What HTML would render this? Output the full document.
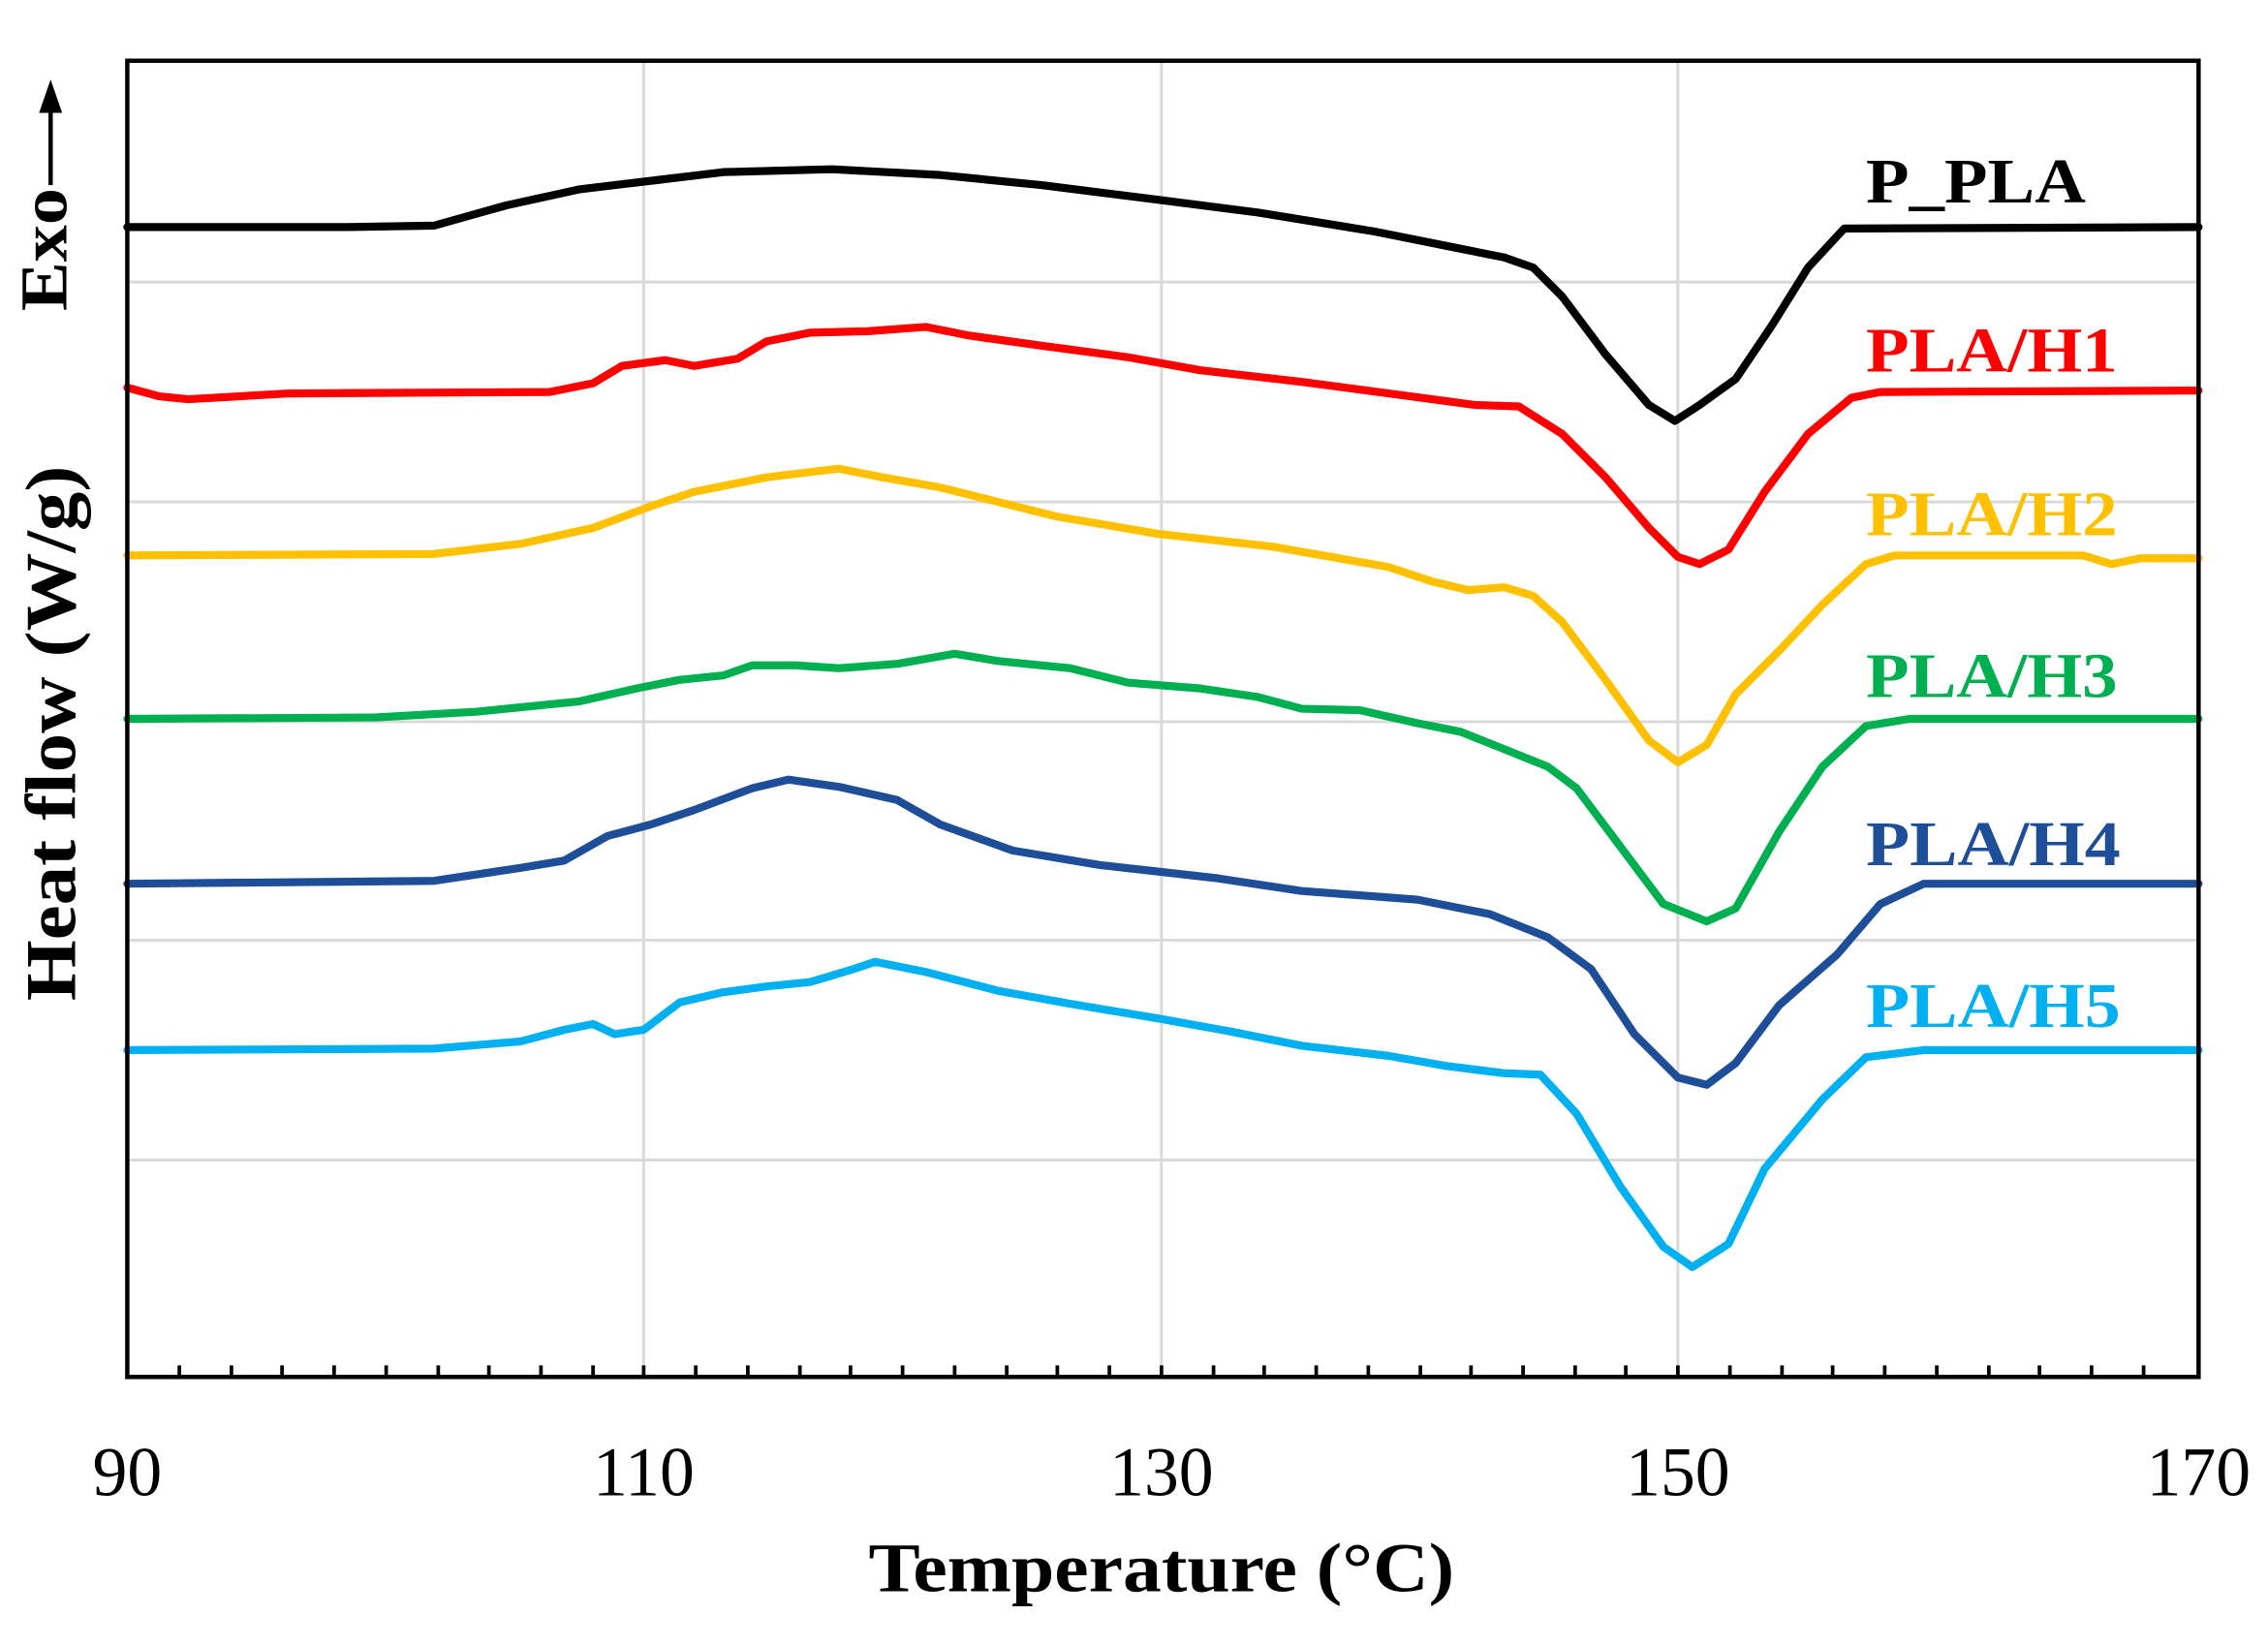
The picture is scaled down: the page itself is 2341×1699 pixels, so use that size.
<!DOCTYPE html>
<html><head><meta charset="utf-8"><style>html,body{margin:0;padding:0;background:#fff}svg{display:block}</style></head>
<body>
<svg width="2341" height="1699" viewBox="0 0 1568 1138" preserveAspectRatio="none" xmlns="http://www.w3.org/2000/svg" font-family="Liberation Serif, serif">
<rect width="1568" height="1138" fill="#fff"/>
<g stroke="#d9d9d9" stroke-width="2">
<line x1="445" y1="42" x2="445" y2="952"/><line x1="803" y1="42" x2="803" y2="952"/><line x1="1160" y1="42" x2="1160" y2="952"/>
<line x1="88" y1="195" x2="1520" y2="195"/><line x1="88" y1="347" x2="1520" y2="347"/><line x1="88" y1="499" x2="1520" y2="499"/><line x1="88" y1="650" x2="1520" y2="650"/><line x1="88" y1="802" x2="1520" y2="802"/>
</g>
<g stroke="#000" stroke-width="2.5">
<line x1="124" y1="952" x2="124" y2="944"/><line x1="160" y1="952" x2="160" y2="944"/><line x1="195" y1="952" x2="195" y2="944"/><line x1="231" y1="952" x2="231" y2="944"/><line x1="267" y1="952" x2="267" y2="944"/><line x1="303" y1="952" x2="303" y2="944"/><line x1="338" y1="952" x2="338" y2="944"/><line x1="374" y1="952" x2="374" y2="944"/><line x1="410" y1="952" x2="410" y2="944"/><line x1="445" y1="952" x2="445" y2="944"/><line x1="481" y1="952" x2="481" y2="944"/><line x1="517" y1="952" x2="517" y2="944"/><line x1="553" y1="952" x2="553" y2="944"/><line x1="588" y1="952" x2="588" y2="944"/><line x1="624" y1="952" x2="624" y2="944"/><line x1="660" y1="952" x2="660" y2="944"/><line x1="696" y1="952" x2="696" y2="944"/><line x1="731" y1="952" x2="731" y2="944"/><line x1="767" y1="952" x2="767" y2="944"/><line x1="803" y1="952" x2="803" y2="944"/><line x1="839" y1="952" x2="839" y2="944"/><line x1="874" y1="952" x2="874" y2="944"/><line x1="910" y1="952" x2="910" y2="944"/><line x1="946" y1="952" x2="946" y2="944"/><line x1="982" y1="952" x2="982" y2="944"/><line x1="1017" y1="952" x2="1017" y2="944"/><line x1="1053" y1="952" x2="1053" y2="944"/><line x1="1089" y1="952" x2="1089" y2="944"/><line x1="1124" y1="952" x2="1124" y2="944"/><line x1="1160" y1="952" x2="1160" y2="944"/><line x1="1196" y1="952" x2="1196" y2="944"/><line x1="1232" y1="952" x2="1232" y2="944"/><line x1="1267" y1="952" x2="1267" y2="944"/><line x1="1303" y1="952" x2="1303" y2="944"/><line x1="1339" y1="952" x2="1339" y2="944"/><line x1="1375" y1="952" x2="1375" y2="944"/><line x1="1410" y1="952" x2="1410" y2="944"/><line x1="1446" y1="952" x2="1446" y2="944"/><line x1="1482" y1="952" x2="1482" y2="944"/>
</g>
<g fill="none" stroke-width="5.5" stroke-linejoin="round" stroke-linecap="round">
<polyline stroke="#000" points="88,157 240,157 300,156 350,142 400,131 450,125 500,119 575,117 650,121 720,128 800,138 870,147 950,160 1000,170 1040,178 1060,185 1080,205 1110,245 1140,280 1158,291 1175,280 1200,262 1225,225 1250,185 1275,158 1520,157"/>
<polyline stroke="#ff0000" points="88,268 110,274 130,276 200,272 380,271 410,265 430,253 460,249 480,253 510,248 530,236 560,230 600,229 640,226 670,232 720,239 780,247 830,256 900,264 960,272 1020,280 1050,281 1080,300 1110,330 1140,365 1160,385 1175,390 1195,380 1220,340 1250,300 1280,275 1300,271 1520,270"/>
<polyline stroke="#ffc000" points="88,384 300,383 360,376 410,365 450,350 480,340 530,330 580,324 610,330 650,337 690,347 730,357 800,369 880,378 960,392 990,402 1015,408 1040,406 1060,412 1080,430 1110,470 1140,512 1160,527 1180,515 1200,480 1230,450 1260,418 1290,390 1310,384 1440,384 1460,390 1480,386 1520,386"/>
<polyline stroke="#00b050" points="88,497 260,496 330,492 400,485 440,476 470,470 500,467 520,460 550,460 580,462 620,459 660,452 690,457 740,462 780,472 830,476 870,482 900,490 940,491 980,500 1010,506 1040,518 1070,530 1090,545 1120,585 1150,625 1180,637 1200,628 1230,575 1260,530 1290,502 1320,497 1520,497"/>
<polyline stroke="#1f4e99" points="88,611 300,609 360,600 390,595 420,578 450,570 480,560 520,545 545,539 580,544 620,553 650,570 700,588 760,598 840,607 900,616 980,622 1030,632 1070,648 1100,670 1130,715 1160,745 1180,750 1200,735 1230,695 1270,660 1300,625 1330,611 1520,611"/>
<polyline stroke="#00b0f0" points="88,726 300,725 360,720 390,712 410,708 425,715 445,712 470,693 500,686 530,682 560,679 590,670 605,665 640,672 690,685 740,694 800,704 850,713 900,723 960,730 1000,737 1040,742 1065,743 1090,770 1120,820 1150,862 1170,876 1195,860 1220,808 1260,760 1290,731 1330,726 1520,726"/>
</g>
<rect x="88" y="42" width="1432" height="910" fill="none" stroke="#000" stroke-width="3"/>
<g font-weight="bold" font-size="44" lengthAdjust="spacingAndGlyphs">
<text x="1290" y="140" fill="#000" textLength="152" lengthAdjust="spacingAndGlyphs">P_PLA</text>
<text x="1290" y="257" fill="#ff0000" textLength="174" lengthAdjust="spacingAndGlyphs">PLA/H1</text>
<text x="1290" y="370" fill="#ffc000" textLength="174" lengthAdjust="spacingAndGlyphs">PLA/H2</text>
<text x="1290" y="482" fill="#00b050" textLength="174" lengthAdjust="spacingAndGlyphs">PLA/H3</text>
<text x="1290" y="598" fill="#1f4e99" textLength="176" lengthAdjust="spacingAndGlyphs">PLA/H4</text>
<text x="1290" y="710" fill="#00b0f0" textLength="176" lengthAdjust="spacingAndGlyphs">PLA/H5</text>
</g>
<g font-size="48" text-anchor="middle" fill="#000">
<text x="88" y="1034">90</text><text x="445" y="1034">110</text><text x="803" y="1034">130</text><text x="1160" y="1034">150</text><text x="1520" y="1034">170</text>
</g>
<text x="803" y="1100" font-size="48" font-weight="bold" text-anchor="middle" textLength="405" lengthAdjust="spacingAndGlyphs">Temperature (°C)</text>
<text transform="translate(52,507) rotate(-90)" font-size="50" font-weight="bold" text-anchor="middle" textLength="370" lengthAdjust="spacingAndGlyphs">Heat flow (W/g)</text>
<text transform="translate(46,215) rotate(-90)" font-size="46" font-weight="bold" textLength="85" lengthAdjust="spacingAndGlyphs">Exo</text>
<line x1="35" y1="128" x2="35" y2="72" stroke="#000" stroke-width="3"/>
<polygon points="35,55 27,78 43,78" fill="#000"/>
</svg>
</body></html>
